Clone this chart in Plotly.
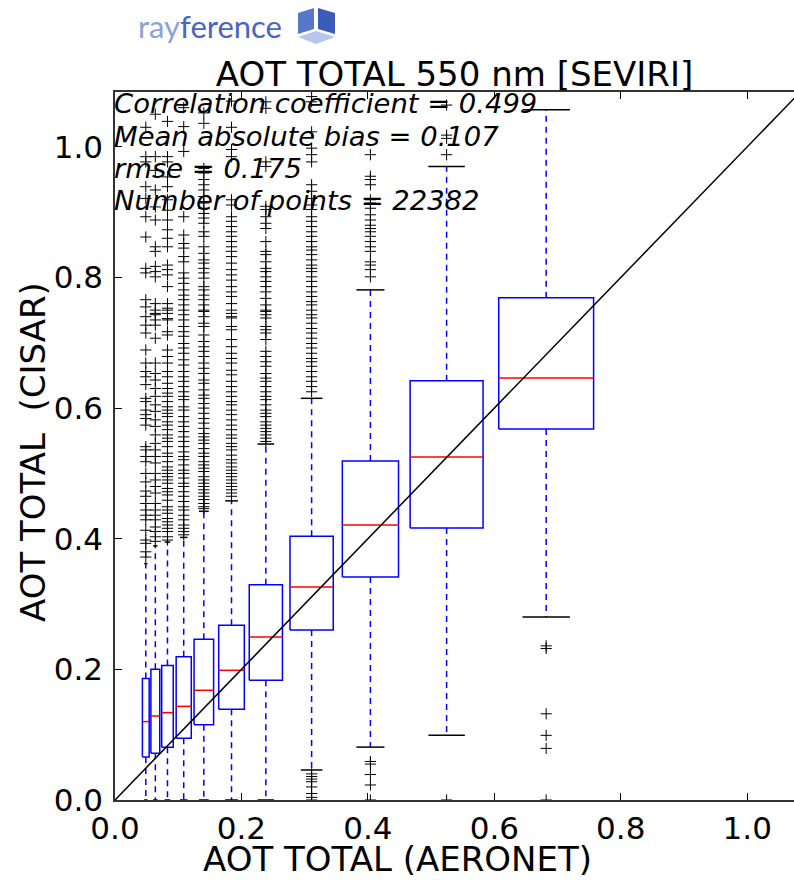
import plotly.graph_objects as go

# ---------------- data ----------------
positions = [0.0487, 0.0638, 0.083, 0.1087, 0.1405, 0.1843, 0.2386, 0.311, 0.404, 0.5245, 0.682]
q1_vals = [0.066, 0.0715, 0.0807, 0.0944, 0.1154, 0.1389, 0.1833, 0.2603, 0.3415, 0.4165, 0.568]
median_vals = [0.120, 0.1286, 0.1337, 0.1434, 0.168, 0.1986, 0.2496, 0.3262, 0.421, 0.525, 0.646]
q3_vals = [0.186, 0.200, 0.206, 0.2195, 0.246, 0.2675, 0.3297, 0.4038, 0.519, 0.642, 0.769]
whisker_low = [0.0, 0.0, 0.0, 0.0, 0.0, 0.0, 0.0, 0.046, 0.081, 0.099, 0.28]
whisker_high = [0.362, 0.389, 0.395, 0.402, 0.442, 0.458, 0.545, 0.615, 0.781, 0.970, 1.057]

fliers_1 = [1.03, 0.985, 0.977, 0.939, 0.921, 0.893, 0.862, 0.814, 0.807, 0.766, 0.755,
            0.740, 0.727, 0.715, 0.689, 0.669, 0.656, 0.648, 0.636, 0.615, 0.610, 0.597,
            0.590, 0.584, 0.574, 0.541, 0.536, 0.526, 0.518, 0.500, 0.487, 0.473, 0.465,
            0.454, 0.444, 0.436, 0.429, 0.413, 0.398, 0.393, 0.380, 0.372]
fliers_2 = [1.05, 0.985, 0.964, 0.934, 0.908, 0.888, 0.847, 0.840, 0.817, 0.809, 0.801,
            0.760, 0.745, 0.750, 0.743, 0.735, 0.727, 0.707, 0.669, 0.653, 0.643, 0.630,
            0.618, 0.605, 0.595, 0.582, 0.572, 0.559, 0.546, 0.536, 0.526, 0.516, 0.500,
            0.490, 0.480, 0.470, 0.454, 0.444, 0.436, 0.429, 0.418, 0.411, 0.403, 0.396]
fliers_3 = [1.039, 0.985, 0.977, 0.954, 0.939, 0.919, 0.903, 0.888, 0.873, 0.860, 0.847,
            0.819, 0.812, 0.804, 0.786, 0.760, 0.753, 0.745, 0.737,
            0.750, 0.735, 0.717, 0.712, 0.689, 0.679, 0.669, 0.656, 0.648, 0.638, 0.630,
            0.623, 0.618, 0.610, 0.602, 0.597, 0.592, 0.587, 0.579, 0.574, 0.567, 0.559,
            0.554, 0.549, 0.541, 0.531, 0.526, 0.518, 0.510, 0.505, 0.500, 0.495, 0.490,
            0.485, 0.477, 0.472, 0.467, 0.459, 0.449, 0.444, 0.439, 0.431, 0.426, 0.421,
            0.416, 0.411, 0.403, 0.398]
fliers_4 = [1.06, 1.031, 0.993, 0.893, 0.865, 0.852, 0.845, 0.832, 0.824, 0.807, 0.799,
            0.791, 0.781, 0.773, 0.766, 0.758, 0.750,
            0.743, 0.735, 0.725, 0.717, 0.710, 0.699, 0.692, 0.684, 0.674, 0.666, 0.656,
            0.648, 0.641, 0.633, 0.625, 0.618, 0.613, 0.602, 0.597, 0.587, 0.579, 0.572,
            0.564, 0.556, 0.549, 0.541, 0.533, 0.526, 0.521, 0.513, 0.505, 0.500, 0.493,
            0.485, 0.480, 0.472, 0.465, 0.457, 0.449, 0.444, 0.436, 0.429, 0.421, 0.416,
            0.411, 0.406]
fliers_5 = [1.052, 1.036, 0.967, 0.960, 0.950, 0.942, 0.934, 0.924, 0.914, 0.906, 0.898,
            0.891, 0.883, 0.870, 0.863, 0.847, 0.837, 0.827, 0.822, 0.814, 0.807, 0.799,
            0.786, 0.781, 0.773, 0.766, 0.758, 0.750,
            0.748, 0.740, 0.730, 0.725, 0.712, 0.702, 0.694, 0.687, 0.679, 0.669, 0.661,
            0.653, 0.643, 0.638, 0.628, 0.620, 0.615, 0.607, 0.600, 0.592, 0.584, 0.577,
            0.569, 0.561, 0.556, 0.551, 0.546, 0.538, 0.531, 0.526, 0.518, 0.513, 0.508,
            0.503, 0.495, 0.490, 0.485, 0.480, 0.475, 0.470, 0.465, 0.460, 0.454, 0.449,
            0.446]
fliers_6 = [1.07, 1.03, 0.996, 0.985, 0.919, 0.911, 0.893, 0.886, 0.878, 0.870, 0.863,
            0.855, 0.847, 0.840, 0.832, 0.822, 0.812, 0.804, 0.796, 0.786, 0.778, 0.771,
            0.760, 0.750, 0.740,
            0.745, 0.738, 0.725, 0.720, 0.705, 0.694, 0.684, 0.676, 0.669, 0.658, 0.651,
            0.641, 0.633, 0.625, 0.618, 0.610, 0.605, 0.597, 0.590, 0.582, 0.574, 0.567,
            0.559, 0.554, 0.546, 0.541, 0.536, 0.528, 0.521, 0.516, 0.510, 0.505, 0.500,
            0.495, 0.490, 0.485, 0.480, 0.475, 0.470, 0.465]
fliers_7 = [1.069, 1.059, 0.977, 0.970, 0.909, 0.904, 0.893, 0.883, 0.875, 0.855, 0.840,
            0.835, 0.824, 0.814, 0.809, 0.801, 0.794, 0.786, 0.778, 0.768, 0.758, 0.748,
            0.750, 0.743, 0.738, 0.725, 0.720, 0.715, 0.705, 0.687, 0.679, 0.671, 0.664,
            0.653, 0.646, 0.641, 0.633, 0.625, 0.618, 0.613, 0.605, 0.597, 0.592, 0.587,
            0.579, 0.574, 0.569, 0.564, 0.559, 0.554, 0.549]
fliers_8 = [1.077, 1.069, 1.023, 0.998, 0.988, 0.977, 0.942, 0.932, 0.921, 0.911, 0.904,
            0.893, 0.886, 0.878, 0.870, 0.863, 0.855, 0.847, 0.842, 0.835, 0.827, 0.819,
            0.814, 0.809, 0.801, 0.794, 0.786, 0.778, 0.771, 0.763, 0.758, 0.750, 0.743,
            0.738, 0.730, 0.722, 0.715, 0.707, 0.699, 0.692, 0.684, 0.676, 0.671, 0.664,
            0.656, 0.648, 0.641, 0.633, 0.625,
            0.040, 0.036, 0.032, 0.028, 0.020, 0.010, 0.004, 0.0]
fliers_9 = [0.988, 0.955, 0.950, 0.942, 0.919, 0.914, 0.906, 0.896, 0.888, 0.880, 0.875,
            0.870, 0.863, 0.855, 0.847, 0.840, 0.824, 0.819, 0.812, 0.801,
            0.059, 0.055, 0.039, 0.023, 0.0]
fliers_10 = [1.064, 1.018, 1.013, 0.988, 0.0]
fliers_11 = [0.236, 0.232, 0.132, 0.099, 0.079, 0.0]
fliers = [fliers_1, fliers_2, fliers_3, fliers_4, fliers_5, fliers_6,
          fliers_7, fliers_8, fliers_9, fliers_10, fliers_11]

tick_vals = [0.0, 0.2, 0.4, 0.6, 0.8, 1.0]
tick_text = ["0.0", "0.2", "0.4", "0.6", "0.8", "1.0"]
stats_lines = ["Correlation coefficient = 0.499",
               "Mean absolute bias = 0.107",
               "rmse = 0.175",
               "Number of points = 22382"]
title_text = "AOT TOTAL 550 nm [SEVIRI]"
x_title = "AOT TOTAL (AERONET)"
y_title = "AOT TOTAL\u00a0 (CISAR)"

# ---------------- layout geometry ----------------
W, H = 794, 880
L, R, T, B = 115, 0, 92, 80
PW, PH = W - L - R, H - T - B
X_MAX = 1.074
Y_MAX = 1.084
WIDTH_FRAC = 0.22

def px_x(px):   # page pixel -> paper x
    return (px - L) / PW

def px_y(py):   # page pixel -> paper y
    return (H - B - py) / PH

BLUE = "#0000ff"
FONT = "DejaVu Sans"

# ---------------- build marks ----------------
box_x, box_y = [], []
med_x, med_y = [], []
wh_x, wh_y = [], []
cap_x, cap_y = [], []
fl_x, fl_y = [], []
for i, p in enumerate(positions):
    w = WIDTH_FRAC * p
    a, b = p - w / 2, p + w / 2
    box_x += [a, b, b, a, a, None]
    box_y += [q1_vals[i], q1_vals[i], q3_vals[i], q3_vals[i], q1_vals[i], None]
    med_x += [a, b, None]
    med_y += [median_vals[i], median_vals[i], None]
    wh_x += [p, p, None, p, p, None]
    wh_y += [q3_vals[i], whisker_high[i], None, q1_vals[i], whisker_low[i], None]
    ca, cb = p - w / 4, p + w / 4
    cap_x += [ca, cb, None, ca, cb, None]
    cap_y += [whisker_high[i], whisker_high[i], None, whisker_low[i], whisker_low[i], None]
    fl_x += [p] * len(fliers[i])
    fl_y += list(fliers[i])

fig = go.Figure()
fig.add_trace(go.Scatter(x=wh_x, y=wh_y, mode="lines",
                         line=dict(color=BLUE, width=1.5, dash="6px,5px"),
                         hoverinfo="skip", showlegend=False))
fig.add_trace(go.Scatter(x=cap_x, y=cap_y, mode="lines",
                         line=dict(color="black", width=1.5),
                         hoverinfo="skip", showlegend=False))
fig.add_trace(go.Scatter(x=box_x, y=box_y, mode="lines",
                         line=dict(color=BLUE, width=1.5),
                         hoverinfo="skip", showlegend=False))
fig.add_trace(go.Scatter(x=med_x, y=med_y, mode="lines",
                         line=dict(color="#ff0000", width=1.5),
                         hoverinfo="skip", showlegend=False))
fig.add_trace(go.Scatter(x=fl_x, y=fl_y, mode="markers",
                         marker=dict(symbol="cross-thin", size=8,
                                     line=dict(color="black", width=1)),
                         hoverinfo="skip", showlegend=False))
fig.add_trace(go.Scatter(x=[0, 1.2], y=[0, 1.2], mode="lines",
                         line=dict(color="black", width=1.5),
                         hoverinfo="skip", showlegend=False))

# ---------------- annotations ----------------
annotations = []
line_centers = [104, 136, 168, 200]
for txt, cy in zip(stats_lines, line_centers):
    annotations.append(dict(text=txt, xref="paper", yref="paper",
                            x=px_x(112), y=px_y(cy), xanchor="left", yanchor="middle",
                            showarrow=False,
                            font=dict(family=FONT, size=27.4, color="black", style="italic")))
# axis titles
annotations.append(dict(text=x_title, xref="paper", yref="paper",
                        x=px_x(397), y=px_y(859), xanchor="center", yanchor="middle",
                        showarrow=False, font=dict(family=FONT, size=34, color="black")))
annotations.append(dict(text=y_title, xref="paper", yref="paper", textangle=-90,
                        x=px_x(33), y=px_y(452), xanchor="center", yanchor="middle",
                        showarrow=False, font=dict(family=FONT, size=34, color="black")))
# logo
annotations.append(dict(
    text="<span style='color:#8da2dc'>ray</span><span style='color:#4766c4'>ference</span>",
    xref="paper", yref="paper", x=px_x(136), y=px_y(26),
    xanchor="left", yanchor="middle", showarrow=False,
    font=dict(family="Lato", size=31, weight=400)))

def poly(points, color):
    d = "M " + " L ".join(f"{px_x(x)},{px_y(y)}" for x, y in points) + " Z"
    return dict(type="path", path=d, xref="paper", yref="paper",
                fillcolor=color, line=dict(width=0), layer="above")

shapes = [
    poly([(298, 13), (314, 8), (314, 29), (298, 34)], "#5877c9"),
    poly([(318, 8), (335, 13), (335, 34), (318, 29)], "#3a5bbb"),
    poly([(298, 37), (316, 31), (335, 37), (316, 44)], "#b8c5ec"),
]

fig.update_layout(
    width=W, height=H,
    margin=dict(l=L, r=R, t=T, b=B, pad=0, autoexpand=False),
    paper_bgcolor="white", plot_bgcolor="white",
    showlegend=False,
    title=dict(text=title_text, x=0.5, xref="paper",
               y=1 - 74 / H, yref="container", xanchor="center", yanchor="middle",
               font=dict(family=FONT, size=34, color="black")),
    annotations=annotations,
    shapes=shapes,
    xaxis=dict(range=[0, X_MAX], tickvals=tick_vals, ticktext=tick_text,
               ticks="inside", ticklen=7, tickcolor="black", tickwidth=1,
               showline=True, linecolor="#333333", linewidth=1.5, mirror="ticks",
               showgrid=False, zeroline=False, automargin=False,
               tickfont=dict(family=FONT, size=31, color="black")),
    yaxis=dict(range=[0, Y_MAX], tickvals=tick_vals, ticktext=tick_text,
               ticks="inside", ticklen=7, tickcolor="black", tickwidth=1,
               showline=True, linecolor="#333333", linewidth=1.5, mirror=False,
               showgrid=False, zeroline=False, automargin=False,
               ticklabelstandoff=4,
               tickfont=dict(family=FONT, size=31, color="black")),
)

# remove the default page margin so the 794x880 figure fills the window exactly
fig.write_html("out.html",
               config={"displayModeBar": False},
               post_script="document.body.style.margin='0';"
                           "document.body.style.overflow='hidden';"
                           "document.documentElement.style.overflow='hidden';")
